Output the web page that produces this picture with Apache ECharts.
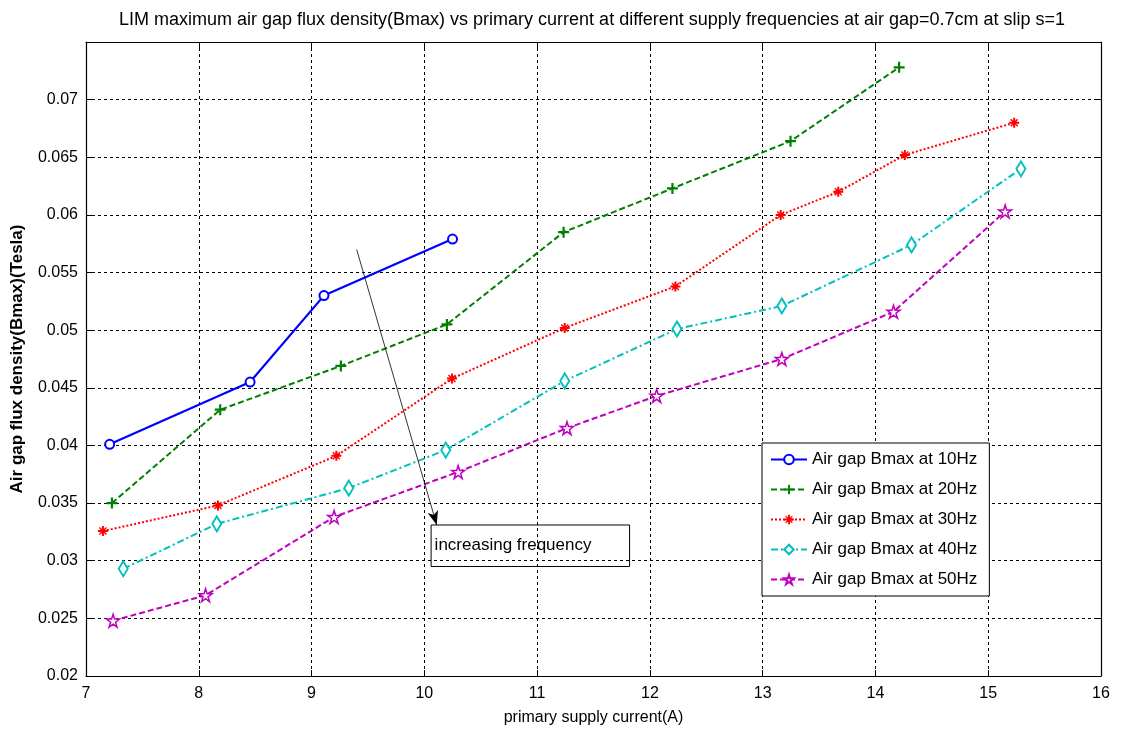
<!DOCTYPE html>
<html>
<head>
<meta charset="utf-8">
<script src="https://cdn.jsdelivr.net/npm/echarts@6/dist/echarts.min.js"></script>
<style>html,body{margin:0;padding:0;background:#fff}#c{width:1125px;height:738px}</style>
</head>
<body>
<div id="c"></div>
<script>
// ---- data ----
const names = ['Air gap Bmax at 10Hz','Air gap Bmax at 20Hz','Air gap Bmax at 30Hz','Air gap Bmax at 40Hz','Air gap Bmax at 50Hz'];
const x10 = [7.21, 8.455, 9.11, 10.25];
const y10 = [0.0401, 0.0455, 0.0530, 0.0579];
const x20 = [7.23, 8.19, 9.26, 10.20, 11.235, 12.20, 13.247, 14.21];
const y20 = [0.0350, 0.0431, 0.0469, 0.0505, 0.0585, 0.0623, 0.0664, 0.0728];
const x30 = [7.15, 8.17, 9.22, 10.245, 11.245, 12.226, 13.16, 13.67, 14.26, 15.23];
const y30 = [0.03257, 0.0348, 0.0391, 0.0458, 0.0502, 0.0538, 0.0600, 0.0620, 0.0652, 0.0680];
const x40 = [7.33, 8.16, 9.33, 10.19, 11.245, 12.24, 13.17, 14.32, 15.29];
const y40 = [0.0293, 0.0332, 0.0363, 0.0396, 0.0456, 0.0501, 0.0521, 0.0574, 0.0640];
const x50 = [7.24, 8.06, 9.20, 10.30, 11.265, 12.06, 13.17, 14.16, 15.15];
const y50 = [0.0248, 0.0270, 0.0338, 0.0377, 0.0415, 0.0443, 0.0475, 0.0516, 0.0603];
const xTicks = [7, 8, 9, 10, 11, 12, 13, 14, 15, 16];
const yTicks = [0.02, 0.025, 0.03, 0.035, 0.04, 0.045, 0.05, 0.055, 0.06, 0.065, 0.07];
const arrowFrom = [9.40, 0.0570];
const arrowTo = [10.11, 0.0331];
const noteBoxFrom = [10.06, 0.0331];
const noteBoxTo = [11.82, 0.0295];
const noteText = 'increasing frequency';
const titleText = 'LIM maximum air gap flux density(Bmax) vs primary current at different supply frequencies at air gap=0.7cm at slip s=1';
const xName = 'primary supply current(A)';
const yName = 'Air gap flux density(Bmax)(Tesla)';

const zip = (xs, ys) => xs.map((x, i) => [x, ys[i]]);
const FONT = 'Liberation Sans, Arial, sans-serif';

const plusPath = 'path://M4,0H6V4H10V6H6V10H4V6H0V4H4Z';
const asteriskPath = 'path://M4,0H6V3L8,1L9,2L7,4H10V6H7L9,8L8,9L6,7V10H4V7L2,9L1,8L3,6H0V4H3L1,2L2,1L4,3Z';
const starPath = 'path://M50,0L61.2,34.5L97.6,34.5L68.2,55.9L79.4,90.5L50,69.1L20.6,90.5L31.8,55.9L2.4,34.5L38.8,34.5Z';

const colors = ['#0000ff', '#008000', '#ff0000', '#00bfbf', '#bf00bf'];

function lineSeries(i, data, symbol, size, lineType, width, itemStyle) {
  return {
    name: names[i], type: 'line', data: data,
    symbol: symbol, symbolSize: size, showAllSymbol: true,
    lineStyle: { color: colors[i], width: width, type: lineType },
    itemStyle: itemStyle,
    emphasis: { disabled: true }, animation: false, z: 3
  };
}

const chart = echarts.init(document.getElementById('c'), null, { renderer: 'canvas' });
chart.setOption({
  animation: false,
  backgroundColor: '#fff',
  title: {
    text: titleText, left: 114, top: 6,
    textStyle: { fontFamily: FONT, fontSize: 18, fontWeight: 'normal', color: '#000' }
  },
  grid: { left: 86, right: 24, top: 42, bottom: 62, show: false },
  legend: {
    data: names, orient: 'vertical', left: 762, top: 443,
    backgroundColor: '#fff', borderColor: '#000', borderWidth: 1,
    padding: [8, 12, 8, 8], itemGap: 13, itemWidth: 36, itemHeight: 12,
    textStyle: { fontFamily: FONT, fontSize: 17, color: '#000' }
  },
  xAxis: [
    {
      type: 'value', min: xTicks[0], max: xTicks[xTicks.length - 1], interval: 1, position: 'bottom',
      name: xName, nameLocation: 'middle', nameGap: 34,
      nameTextStyle: { fontFamily: FONT, fontSize: 16, color: '#000' },
      axisLine: { show: true, onZero: false, lineStyle: { color: '#000', width: 1.2 } },
      axisTick: { show: true, inside: true, length: 6, lineStyle: { color: '#000' } },
      axisLabel: { fontFamily: FONT, fontSize: 16, color: '#000', margin: 10 },
      splitLine: { show: true, lineStyle: { color: '#000', type: [3, 3], width: 1 } }
    },
    {
      type: 'value', min: xTicks[0], max: xTicks[xTicks.length - 1], interval: 1, position: 'top',
      axisLine: { show: true, onZero: false, lineStyle: { color: '#000', width: 1.2 } },
      axisTick: { show: true, inside: true, length: 6, lineStyle: { color: '#000' } },
      axisLabel: { show: false }, splitLine: { show: false }
    }
  ],
  yAxis: [
    {
      type: 'value', min: yTicks[0], max: 0.075, interval: 0.005, position: 'left',
      name: yName, nameLocation: 'middle', nameGap: 60,
      nameTextStyle: { fontFamily: FONT, fontSize: 17, fontWeight: 'bold', color: '#000' },
      axisLine: { show: true, onZero: false, lineStyle: { color: '#000', width: 1.2 } },
      axisTick: { show: true, inside: true, length: 6, lineStyle: { color: '#000' } },
      axisLabel: {
        fontFamily: FONT, fontSize: 16, color: '#000', margin: 8, showMaxLabel: false,
        formatter: v => String(+v.toFixed(4))
      },
      splitLine: { show: true, lineStyle: { color: '#000', type: [3, 3], width: 1 } }
    },
    {
      type: 'value', min: yTicks[0], max: 0.075, interval: 0.005, position: 'right',
      axisLine: { show: true, onZero: false, lineStyle: { color: '#000', width: 1.2 } },
      axisTick: { show: true, inside: true, length: 6, lineStyle: { color: '#000' } },
      axisLabel: { show: false }, splitLine: { show: false }
    }
  ],
  series: [
    lineSeries(0, zip(x10, y10), 'emptyCircle', 9, 'solid', 2.2, { color: colors[0], borderWidth: 1.5 }),
    lineSeries(1, zip(x20, y20), plusPath, 11, [6, 3], 2, { color: colors[1] }),
    lineSeries(2, zip(x30, y30), asteriskPath, 10, [2, 2], 2, { color: colors[2] }),
    lineSeries(3, zip(x40, y40), 'emptyDiamond', [9, 15], [7, 3, 2, 3], 2, { color: colors[3], borderWidth: 1.5 }),
    lineSeries(4, zip(x50, y50), starPath, 13, [6, 3], 2, { color: '#fff', borderColor: colors[4], borderWidth: 1.5 }),
    {
      name: 'annotation', type: 'line', data: [], silent: true, animation: false, z: 4,
      markLine: {
        silent: true, symbol: ['none', 'arrow'], symbolSize: [8, 14], animation: false,
        lineStyle: { color: '#000', width: 0.8, type: 'solid' },
        label: { show: false },
        data: [[{ coord: arrowFrom }, { coord: arrowTo }]]
      },
      markArea: {
        silent: true, animation: false,
        itemStyle: { color: 'rgba(0,0,0,0)', borderColor: '#000', borderWidth: 1 },
        label: { show: true, position: 'insideLeft', distance: 4, fontFamily: FONT, fontSize: 17, color: '#000' },
        data: [[{ name: noteText, coord: noteBoxFrom }, { coord: noteBoxTo }]]
      }
    }
  ]
});
</script>
</body>
</html>
